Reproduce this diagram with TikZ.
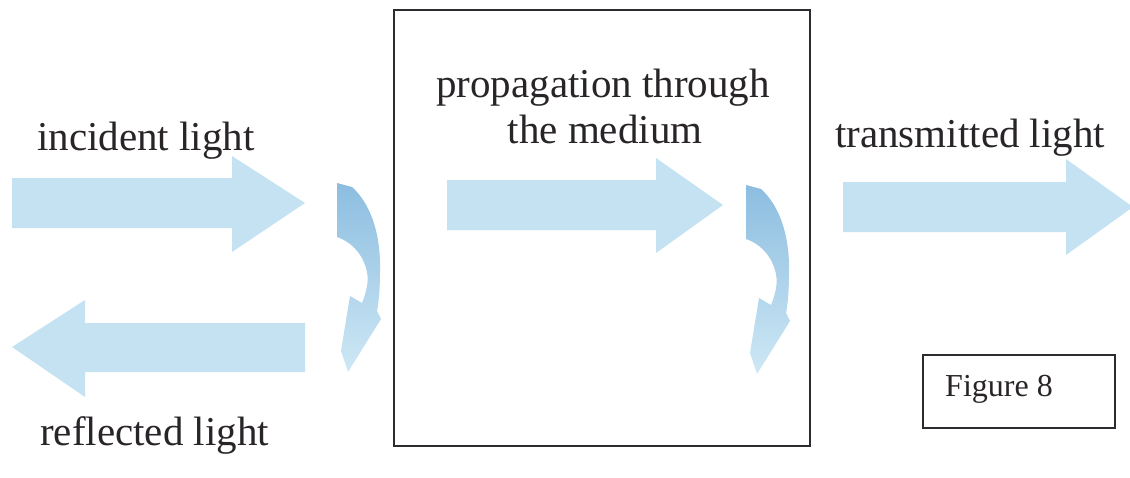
\documentclass[tikz,border=0pt]{standalone}
\usepackage{fontspec}
\setmainfont{Liberation Serif}
\definecolor{arrowblue}{RGB}{196,226,242}
\definecolor{curvedark}{RGB}{140,189,224}
\definecolor{curvelight}{RGB}{206,232,245}
\definecolor{inkgray}{RGB}{40,36,40}
\definecolor{framegray}{RGB}{45,42,48}
\tikzset{
  blockarrow/.style={fill=arrowblue, draw=none},
  curvedarrow/.style={top color=curvedark, bottom color=curvelight, draw=none, shading angle=0},
  label/.style={font=\fontsize{41}{49}\selectfont, text=inkgray, inner sep=0pt, anchor=base west},
  framebox/.style={draw=framegray, line width=1.6pt},
}
\begin{document}
\begin{tikzpicture}[x=1pt,y=-1pt]
\useasboundingbox (0,0) rectangle (1130,477);
\clip (0,0) rectangle (1130,477);
% straight block arrows
\fill[blockarrow] (12,178) -- (232,178) -- (232,156) -- (305,203) -- (232,252) -- (232,228) -- (12,228) -- cycle;
\fill[blockarrow] (447,180) -- (656,180) -- (656,158) -- (723,205) -- (656,253) -- (656,230) -- (447,230) -- cycle;
\fill[blockarrow] (843,182) -- (1066,182) -- (1066,159) -- (1133,207) -- (1066,255) -- (1066,232) -- (843,232) -- cycle;
\fill[blockarrow] (305,323) -- (85,323) -- (85,300) -- (12,347) -- (85,397) -- (85,372) -- (305,372) -- cycle;
% curved arrows
\foreach \ox/\oy in {337/183, 746/185}{
  \begin{scope}[shift={(\ox,\oy)}]
    \shade[curvedarrow] (0,0) -- (15,4)
      .. controls (33,20) and (44,50) .. (43,88)
      .. controls (43,105) and (42,118) .. (40,128)
      -- (44,136) -- (11,189) -- (4,168) -- (13,113) -- (25,120)
      .. controls (31,105) and (32,95) .. (29,85)
      .. controls (24,68) and (12,58) .. (0,54) -- cycle;
  \end{scope}
}
% medium frame
\draw[framebox] (394,10) rectangle (810,446);
% labels
\node[label] (incident) at (37,150) {incident light};
\node[label] (reflected) at (40,445) {reflected light};
\node[label] (transmitted) at (835,147) {transmitted light};
\node[label, anchor=base] (prop1) at (603,97) {propagation through};
\node[label, anchor=base] (prop2) at (605,143) {the medium};
% figure box
\draw[framebox] (923,355) rectangle (1115,428);
\node[label, font=\fontsize{32}{38}\selectfont] (fig) at (945,396) {Figure 8};
\end{tikzpicture}
\end{document}
